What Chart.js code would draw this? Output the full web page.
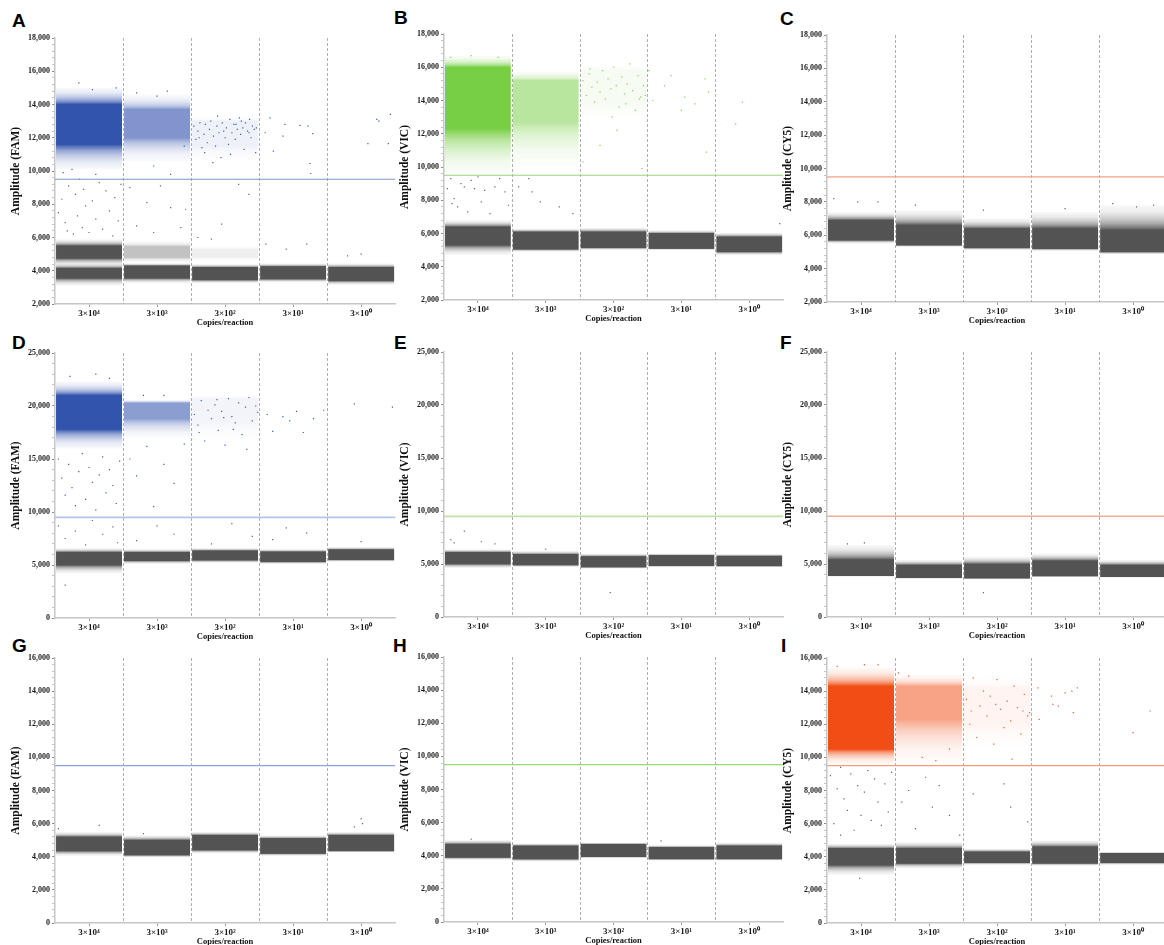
<!DOCTYPE html>
<html>
<head>
<meta charset="utf-8">
<script src="https://cdn.jsdelivr.net/npm/chart.js@4.4.1/dist/chart.umd.min.js"></script>
<style>
  html, body { margin: 0; background: #fff; overflow: hidden; width: 1164px; height: 945px; }
  canvas { position: absolute; }
  .tag { position: absolute; font: bold 19px "Liberation Sans", Arial, sans-serif; line-height: 19px; color: #000; }
</style>
</head>
<body>
<div class="tag" style="left:12px;top:11px">A</div>
<div class="tag" style="left:394px;top:8px">B</div>
<div class="tag" style="left:780px;top:9px">C</div>
<div class="tag" style="left:12px;top:333px">D</div>
<div class="tag" style="left:394px;top:333px">E</div>
<div class="tag" style="left:780px;top:333px">F</div>
<div class="tag" style="left:12px;top:636px">G</div>
<div class="tag" style="left:393px;top:636px">H</div>
<div class="tag" style="left:781px;top:636px">I</div>
<canvas id="A"></canvas><canvas id="B"></canvas><canvas id="C"></canvas>
<canvas id="D"></canvas><canvas id="E"></canvas><canvas id="F"></canvas>
<canvas id="G"></canvas><canvas id="H"></canvas><canvas id="I"></canvas>
<script>
// wells (template copies per reaction)
const wells = ['3×10⁴', '3×10³', '3×10²', '3×10¹', '3×10⁰'];
const THRESHOLD = 9500;

const ticksTop = [2000, 4000, 6000, 8000, 10000, 12000, 14000, 16000, 18000];
const ticksMid = [0, 5000, 10000, 15000, 20000, 25000];
const ticksLow = [0, 2000, 4000, 6000, 8000, 10000, 12000, 14000, 16000];

// clusters: dense core [lo, hi] and outer spread [lo, hi] per well, droplet counts
const DENSE = 15000;

// A - FAM
const negCoreA = [[3550, 4150], [3550, 4300], [3450, 4200], [3500, 4250], [3400, 4200]];
const negHaloA = [[3100, 4450], [3250, 4450], [3250, 4400], [3300, 4450], [3150, 4450]];
const negCountA = [8000, 15000, 15000, 15000, 15000];
const neg2CoreA = [[4750, 5500], [4800, 5450], [4800, 5300], null, null];
const neg2HaloA = [[4300, 5900], [4500, 5800], [4600, 5500], null, null];
const neg2CountA = [4500, 1300, 180, 0, 0];
const posCoreA = [[11600, 14000], [12000, 13700], [11500, 13000], null, null];
const posHaloA = [[10100, 15000], [10600, 14600], [10500, 13300], null, null];
const posCountA = [9000, 2400, 130, 9, 5];
const posDotsA = [[0.35, 15300], [0.55, 14900], [0.9, 15000], [0.12, 9900], [0.6, 9800], [0.25, 10100],
  [1.2, 14700], [1.5, 14500], [1.65, 14800], [1.45, 10300], [1.7, 9800], [1.9, 11500],
  [2.04, 12700], [2.07, 11900], [2.1, 12400], [2.13, 12900], [2.16, 11400], [2.19, 12200], [2.21, 12800],
  [2.24, 11700], [2.27, 12500], [2.29, 13000], [2.33, 12100], [2.36, 11500], [2.38, 12700], [2.41, 12300],
  [2.44, 10800], [2.46, 12900], [2.5, 12000], [2.52, 12600], [2.55, 11600], [2.57, 13100], [2.6, 12300],
  [2.63, 12800], [2.65, 11900], [2.68, 12500], [2.71, 13200], [2.73, 12200], [2.76, 12600], [2.78, 11300],
  [2.8, 12900], [2.83, 12400], [2.86, 13100], [2.88, 12000], [2.9, 12700], [2.93, 12500], [2.95, 11100],
  [2.32, 10500], [2.58, 11000], [2.74, 13000], [2.12, 12000], [2.48, 12400], [2.66, 12800], [2.85, 12300],
  [2.39, 13300], [2.2, 11100], [2.96, 12600],
  [3.09, 12300], [3.16, 13200], [3.21, 11200], [3.35, 12100], [3.38, 12800], [3.6, 12750], [3.72, 12700],
  [3.79, 12250], [3.75, 10450], [3.76, 9850],
  [4.6, 11650], [4.73, 13100], [4.76, 13000], [4.9, 11650], [4.93, 13400]];
const rainA = [[0.05, 7500], [0.1, 8300], [0.15, 6900], [0.2, 9100], [0.27, 6200], [0.3, 8600], [0.33, 7300],
  [0.4, 6600], [0.42, 8900], [0.45, 7900], [0.5, 6300], [0.55, 8200], [0.6, 7100], [0.65, 9300], [0.7, 6500],
  [0.75, 8800], [0.8, 7600], [0.85, 6100], [0.88, 8400], [0.93, 7000], [0.97, 9200], [0.36, 9500], [0.18, 6400],
  [1.1, 9000], [1.2, 6700], [1.35, 8100], [1.45, 6300], [1.55, 9100], [1.7, 7800], [1.85, 6600], [1.92, 7700],
  [2.1, 6000], [2.45, 6800], [2.7, 9200], [2.85, 8600], [2.3, 5900],
  [3.1, 5600], [3.4, 5300], [3.7, 5600], [4.3, 4900], [4.5, 5000]];

// B - VIC
const negCoreB = [[5300, 6400], [5050, 6100], [5150, 6100], [5100, 6000], [4900, 5800]];
const negHaloB = [[4700, 6800], [4900, 6300], [5000, 6350], [5000, 6200], [4700, 6050]];
const posCoreB = [[12300, 16000], [12700, 15200], [13800, 15800], null, null];
const posHaloB = [[9600, 16700], [10000, 15800], [12500, 16200], null, null];
const posCountB = [9500, 2000, 60, 10, 2];
const posDotsB = [[0.1, 16600], [0.4, 16700], [0.8, 16600],
  [2.05, 15200], [2.1, 14300], [2.14, 15600], [2.18, 14800], [2.22, 13900], [2.26, 15100], [2.3, 14500],
  [2.34, 15800], [2.38, 14100], [2.42, 15300], [2.46, 14700], [2.5, 16000], [2.54, 14900], [2.58, 13600],
  [2.62, 15400], [2.66, 14400], [2.7, 15000], [2.74, 16200], [2.78, 14600], [2.82, 13400], [2.86, 15500],
  [2.9, 14200], [2.94, 14900], [2.3, 11300], [2.55, 12200], [2.05, 10300], [2.92, 9900], [2.15, 15900],
  [2.48, 13000], [2.68, 13800], [2.88, 14100], [2.97, 14300],
  [3.02, 15800], [3.08, 14000], [3.25, 14900], [3.35, 15500], [3.5, 13400], [3.55, 14200], [3.7, 13800],
  [3.85, 15300], [3.9, 14500], [3.87, 10900],
  [4.4, 13900], [4.3, 12600]];
const rainB = [[0.05, 8700], [0.1, 9300], [0.15, 8100], [0.2, 7600], [0.25, 9000], [0.3, 8800], [0.35, 7300],
  [0.45, 8700], [0.5, 9400], [0.55, 7900], [0.6, 8600], [0.68, 7200], [0.75, 8800], [0.82, 9300], [0.9, 8500],
  [0.95, 7700], [0.4, 9200], [0.12, 7800],
  [1.1, 8800], [1.25, 9300], [1.3, 8500], [1.42, 7900], [1.7, 7600], [1.9, 7200], [4.95, 6600]];

// C - CY5
const negCoreC = [[5700, 6900], [5400, 6600], [5250, 6400], [5200, 6400], [5000, 6300]];
const negHaloC = [[5500, 7400], [5300, 7500], [5100, 7000], [5050, 7400], [4850, 7800]];
const rainC = [[0.1, 8200], [0.45, 8000], [0.75, 8000], [1.3, 7800], [2.3, 7500], [3.5, 7600], [4.2, 7900],
  [4.55, 7700], [4.8, 7800]];

// D - FAM
const negCoreD = [[5000, 6200], [5400, 6200], [5450, 6350], [5300, 6250], [5500, 6450]];
const negHaloD = [[4200, 6600], [5100, 6500], [5200, 6600], [5100, 6500], [5300, 6700]];
const posCoreD = [[17800, 21000], [18800, 20300], [18500, 20700], null, null];
const posHaloD = [[16000, 22300], [17000, 20600], [16500, 21000], null, null];
const posCountD = [9000, 2200, 40, 8, 2];
const posDotsD = [[0.05, 15000], [0.1, 13200], [0.15, 11600], [0.2, 14500], [0.25, 12300], [0.3, 10600],
  [0.35, 13800], [0.4, 15500], [0.45, 11200], [0.5, 14200], [0.55, 12800], [0.6, 10200], [0.65, 13500],
  [0.7, 15200], [0.75, 11800], [0.8, 14000], [0.85, 12500], [0.9, 10800], [0.95, 14800], [0.22, 22800],
  [0.6, 23000], [0.8, 22600],
  [1.1, 15000], [1.2, 13400], [1.35, 16200], [1.45, 10500], [1.6, 14500], [1.75, 12700], [1.9, 16400],
  [1.3, 21000], [1.6, 21000],
  [2.05, 19200], [2.1, 18200], [2.15, 20500], [2.2, 16700], [2.25, 19600], [2.3, 18800], [2.35, 20100],
  [2.4, 17700], [2.45, 19500], [2.5, 16300], [2.55, 20700], [2.6, 19000], [2.65, 18400], [2.7, 20300],
  [2.75, 17300], [2.8, 19900], [2.85, 20800], [2.9, 18600], [2.95, 20000], [2.98, 19400], [2.12, 17500],
  [2.38, 20600], [2.62, 17800], [2.82, 15900], [2.48, 18900],
  [3.12, 19200], [3.2, 17600], [3.35, 19000], [3.45, 18600], [3.55, 19500], [3.65, 17500], [3.8, 18800],
  [3.95, 19600], [4.4, 20200], [4.96, 19900]];
const rainD = [[0.05, 8700], [0.15, 7500], [0.3, 8200], [0.45, 6900], [0.55, 9200], [0.7, 7900], [0.85, 8600],
  [0.92, 7100], [0.15, 3100], [1.5, 8700], [1.75, 7900], [1.2, 7300], [2.3, 7000], [2.6, 8900], [2.9, 7700],
  [3.4, 8500], [3.7, 8000], [3.2, 7400], [4.5, 7200]];

// E - VIC
const negCoreE = [[5000, 6100], [4900, 5900], [4700, 5700], [4850, 5800], [4800, 5750]];
const negHaloE = [[4600, 6400], [4700, 6250], [4550, 6000], [4700, 6000], [4700, 5950]];
const rainE = [[0.1, 7300], [0.15, 7000], [0.3, 8100], [0.55, 7100], [0.75, 6900], [2.45, 2300], [1.5, 6400]];

// F - CY5
const negCoreF = [[3900, 5400], [3700, 4900], [3650, 5000], [3850, 5300], [3800, 4900]];
const negHaloF = [[3800, 6800], [3600, 5400], [3550, 5700], [3750, 6000], [3700, 5400]];
const rainF = [[0.3, 6900], [0.55, 7000], [2.3, 2300]];

// G - FAM
const negCoreG = [[4350, 5200], [4100, 5000], [4400, 5300], [4200, 5100], [4350, 5300]];
const negHaloG = [[4050, 5500], [3950, 5300], [4200, 5500], [4050, 5300], [4250, 5500]];
const rainG = [[0.05, 5700], [0.65, 5900], [1.3, 5400], [4.5, 6300], [4.52, 6000], [4.4, 5800]];

// H - VIC
const negCoreH = [[3900, 4700], [3800, 4600], [3950, 4700], [3800, 4500], [3800, 4600]];
const negHaloH = [[3750, 4950], [3650, 4750], [3850, 4800], [3700, 4650], [3700, 4800]];
const rainH = [[0.4, 5000], [3.2, 4900]];

// I - CY5
const negCoreI = [[3500, 4500], [3600, 4500], [3650, 4300], [3600, 4600], [3650, 4200]];
const negHaloI = [[2900, 4800], [3300, 4900], [3500, 4500], [3450, 5000], [3500, 4300]];
const posCoreI = [[10500, 14300], [12300, 14300], [12000, 14200], null, null];
const posHaloI = [[9600, 15400], [9700, 15000], [10500, 14800], null, null];
const posCountI = [9000, 2000, 40, 9, 2];
const posDotsI = [[0.15, 15500], [0.55, 15600], [0.75, 15600],
  [1.2, 14900], [1.05, 15100], [1.4, 10000], [1.6, 9800], [1.8, 10500],
  [2.05, 13500], [2.1, 12000], [2.15, 14800], [2.2, 11200], [2.25, 13100], [2.3, 14000], [2.35, 12500],
  [2.4, 13700], [2.45, 10800], [2.5, 14700], [2.55, 12900], [2.6, 11800], [2.65, 13400], [2.7, 12200],
  [2.75, 14300], [2.8, 13000], [2.85, 11400], [2.9, 13800], [2.95, 12500], [2.98, 12700], [2.12, 12800],
  [2.48, 13200], [2.72, 9900], [2.88, 12800],
  [3.1, 14200], [3.12, 12300], [3.3, 13700], [3.32, 13200], [3.4, 13100], [3.5, 13900], [3.6, 14000],
  [3.62, 12700], [3.68, 14200], [4.5, 11500], [4.75, 12800]];
const rainI = [[0.05, 8900], [0.1, 6000], [0.15, 8100], [0.2, 9400], [0.25, 7500], [0.3, 6800], [0.35, 9000],
  [0.4, 5600], [0.45, 8300], [0.5, 6500], [0.55, 7900], [0.6, 9200], [0.65, 6200], [0.7, 8700], [0.75, 7300],
  [0.8, 5900], [0.85, 8400], [0.9, 6700], [0.95, 9100], [0.48, 2700], [0.2, 5300],
  [1.2, 8000], [1.3, 5700], [1.45, 8800], [1.55, 7000], [1.65, 8300], [1.8, 6500], [1.95, 5300], [1.1, 7300],
  [2.15, 7800], [2.6, 8400], [2.7, 7000], [2.95, 6100]];

// ---- styling / layout ----
const SERIF = '"Liberation Serif", "Times New Roman", serif';
const NEG = '74,74,74', FAM = '40,74,168', VIC = '112,204,58', CY5 = '240,68,8';
const DOT = { neg: 'rgb(100,100,100)', fam: 'rgb(55,92,195)', vic: 'rgb(125,212,85)', cy5: 'rgb(244,90,36)' };
const COL_L = [55, 444, 827], COL_R = [396, 784, 1168];
const AXIS_W = 52, PAD_T = 8, XAXIS_H = 30;

// fall-off of density from the edge of the core (1) out to the edge of the spread (0)
const FADE = [[0, 0.03], [0.3, 0.12], [0.55, 0.3], [0.75, 0.52], [0.9, 0.78], [1, 1]];

// density shading: opaque core, soft fall-off to the edges of the spread
function clusterFill(c, rgb) {
  const d = c.raw;
  if (!d || !d.core) return 'rgba(' + rgb + ',0.9)';
  const a = Math.min(0.95, 0.05 + d.n / 4500);
  const y = c.chart.scales.y;
  const top = y.getPixelForValue(d.y[1]), bot = y.getPixelForValue(d.y[0]);
  if (!(bot - top > 1)) return 'rgba(' + rgb + ',' + a + ')';
  const g = c.chart.ctx.createLinearGradient(0, top, 0, bot);
  const s = v => Math.min(1, Math.max(0, (y.getPixelForValue(v) - top) / (bot - top)));
  const col = f => 'rgba(' + rgb + ',' + (a * f).toFixed(3) + ')';
  const hi = s(d.core[1]), lo = s(d.core[0]);
  FADE.forEach(([t, f]) => g.addColorStop(hi * t, col(f)));
  FADE.slice().reverse().forEach(([t, f]) => g.addColorStop(lo + (1 - lo) * (1 - t), col(f)));
  return g;
}

function band(core, halo, count, rgb) {
  const data = [];
  core.forEach((c, i) => {
    if (c) data.push({ x: i + 0.5, y: halo[i], core: c, n: Array.isArray(count) ? count[i] : count });
  });
  return {
    type: 'bar', data: data, grouped: false, order: 2,
    barPercentage: 0.97, categoryPercentage: 1, borderWidth: 0, borderSkipped: false,
    backgroundColor: c => clusterFill(c, rgb)
  };
}

function dots(pts, color) {
  return {
    type: 'scatter', order: 1, data: pts.map(p => ({ x: p[0], y: p[1] })),
    pointStyle: 'rect', pointRadius: 0.85, pointHoverRadius: 0, borderWidth: 0, backgroundColor: color
  };
}

const wellPlugin = {
  id: 'wells',
  beforeDatasetsDraw(chart) {
    const { ctx, chartArea: a, scales: { x } } = chart;
    ctx.save();
    ctx.strokeStyle = '#adadad';
    ctx.lineWidth = 1;
    ctx.setLineDash([3, 2]);
    for (let i = 1; i < wells.length; i++) {
      const px = Math.round(x.getPixelForValue(i)) + 0.5;
      ctx.beginPath(); ctx.moveTo(px, a.top); ctx.lineTo(px, a.bottom); ctx.stroke();
    }
    ctx.restore();
  },
  afterDatasetsDraw(chart, args, opts) {
    const { ctx, chartArea: a, scales: { y } } = chart;
    const py = y.getPixelForValue(THRESHOLD);
    ctx.save();
    ctx.strokeStyle = opts.color;
    ctx.lineWidth = opts.width;
    ctx.beginPath(); ctx.moveTo(a.left, py); ctx.lineTo(a.right, py); ctx.stroke();
    ctx.restore();
  }
};

function yScale(majors, title) {
  return {
    type: 'linear', min: majors[0], max: majors[majors.length - 1],
    afterBuildTicks: s => {
      const t = [];
      for (let i = 0; i < majors.length - 1; i++) {
        for (let k = 0; k < 5; k++) t.push({ value: majors[i] + (majors[i + 1] - majors[i]) * k / 5 });
      }
      t.push({ value: majors[majors.length - 1] });
      s.ticks = t;
    },
    afterFit: s => { s.width = AXIS_W; },
    ticks: {
      autoSkip: false, padding: 2, color: '#1a1a1a',
      font: { family: SERIF, size: 8, weight: 'bold' },
      callback: v => majors.includes(v) ? v.toLocaleString('en-US') : ''
    },
    grid: {
      drawOnChartArea: false, tickLength: 3,
      tickColor: c => (c.tick && majors.includes(c.tick.value)) ? '#8a8a8a' : '#c4c4c4'
    },
    border: { color: '#c6c6c6', width: 1.5 },
    title: {
      display: true, text: title, color: '#111',
      font: { family: SERIF, size: 11.5, weight: 'bold' }, padding: { top: 6, bottom: 0 }
    }
  };
}

function xScale() {
  return {
    type: 'linear', min: 0, max: wells.length, offset: false,
    afterBuildTicks: s => { s.ticks = wells.map((w, i) => ({ value: i + 0.5 })); },
    afterFit: s => { s.height = XAXIS_H; },
    ticks: {
      autoSkip: false, maxRotation: 0, padding: 1, color: '#1a1a1a',
      font: { family: SERIF, size: 9, weight: 'bold' },
      callback: v => wells[Math.floor(v)]
    },
    grid: { drawOnChartArea: false, offset: false, tickLength: 3, tickColor: '#9a9a9a' },
    border: { color: '#c6c6c6', width: 1.5 },
    title: {
      display: true, text: 'Copies/reaction', color: '#111',
      font: { family: SERIF, size: 8.5, weight: 'bold' }, padding: { top: 0, bottom: 6 }
    }
  };
}

const panels = [
  { id: 'A', col: 0, top: 38, bottom: 304, ticks: ticksTop, dye: 'FAM', line: '#8195cb', lw: 1.1,
    bands: [band(negCoreA, negHaloA, negCountA, NEG), band(neg2CoreA, neg2HaloA, neg2CountA, NEG),
            band(posCoreA, posHaloA, posCountA, FAM)],
    dots: [dots(rainA, DOT.neg), dots(posDotsA, DOT.fam)] },
  { id: 'B', col: 1, top: 34, bottom: 300, ticks: ticksTop, dye: 'VIC', line: '#9ad47e', lw: 1.1,
    bands: [band(negCoreB, negHaloB, DENSE, NEG), band(posCoreB, posHaloB, posCountB, VIC)],
    dots: [dots(rainB, DOT.neg), dots(posDotsB, DOT.vic)] },
  { id: 'C', col: 2, top: 35, bottom: 302, ticks: ticksTop, dye: 'CY5', line: '#f1a285', lw: 1.1,
    bands: [band(negCoreC, negHaloC, DENSE, NEG)],
    dots: [dots(rainC, DOT.neg)] },
  { id: 'D', col: 0, top: 353, bottom: 618, ticks: ticksMid, dye: 'FAM', line: '#b5c3e9', lw: 1.7,
    bands: [band(negCoreD, negHaloD, DENSE, NEG), band(posCoreD, posHaloD, posCountD, FAM)],
    dots: [dots(rainD, DOT.neg), dots(posDotsD, DOT.fam)] },
  { id: 'E', col: 1, top: 352, bottom: 617, ticks: ticksMid, dye: 'VIC', line: '#bfe3a5', lw: 1.7,
    bands: [band(negCoreE, negHaloE, DENSE, NEG)],
    dots: [dots(rainE, DOT.neg)] },
  { id: 'F', col: 2, top: 352, bottom: 617, ticks: ticksMid, dye: 'CY5', line: '#f3aa98', lw: 1.5,
    bands: [band(negCoreF, negHaloF, DENSE, NEG)],
    dots: [dots(rainF, DOT.neg)] },
  { id: 'G', col: 0, top: 658, bottom: 923, ticks: ticksLow, dye: 'FAM', line: '#8ba4dc', lw: 1.2,
    bands: [band(negCoreG, negHaloG, DENSE, NEG)],
    dots: [dots(rainG, DOT.neg)] },
  { id: 'H', col: 1, top: 657, bottom: 922, ticks: ticksLow, dye: 'VIC', line: '#9bd872', lw: 1.2,
    bands: [band(negCoreH, negHaloH, DENSE, NEG)],
    dots: [dots(rainH, DOT.neg)] },
  { id: 'I', col: 2, top: 658, bottom: 923, ticks: ticksLow, dye: 'CY5', line: '#f39c7e', lw: 1.2,
    bands: [band(negCoreI, negHaloI, DENSE, NEG), band(posCoreI, posHaloI, posCountI, CY5)],
    dots: [dots(rainI, DOT.neg), dots(posDotsI, DOT.cy5)] }
];

panels.forEach(p => {
  const cv = document.getElementById(p.id);
  const left = COL_L[p.col] - AXIS_W;
  cv.width = COL_R[p.col] - left;
  cv.height = p.bottom - p.top + PAD_T + XAXIS_H;
  cv.style.left = left + 'px';
  cv.style.top = (p.top - PAD_T) + 'px';

  new Chart(cv, {
    type: 'bar',
    data: { datasets: p.dots.concat(p.bands) },
    options: {
      responsive: false,
      animation: false,
      events: [],
      layout: { padding: { top: PAD_T, right: 0, bottom: 0, left: 0 } },
      scales: { x: xScale(), y: yScale(p.ticks, 'Amplitude (' + p.dye + ')') },
      plugins: {
        legend: { display: false },
        tooltip: { enabled: false },
        wells: { color: p.line, width: p.lw }
      }
    },
    plugins: [wellPlugin]
  });
});
</script>
</body>
</html>
